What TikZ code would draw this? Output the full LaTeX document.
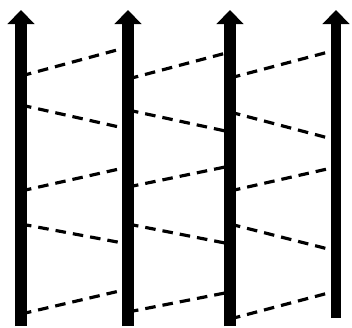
\documentclass[tikz,border=0pt]{standalone}
\usetikzlibrary{arrows.meta}
\tikzset{
  axisline/.style={-{Triangle[width=15pt,length=8pt]},line width=6.5pt,black},
  zigline/.style={dash pattern=on 6pt off 4pt,line width=1.8pt,black},
}
\begin{document}
\begin{tikzpicture}[x=0.02cm,y=-0.02cm]
  \useasboundingbox (0,0) rectangle (352,328);
  % vertical axes
  \coordinate (b1) at (21,326); \coordinate (t1) at (21,10);
  \coordinate (b2) at (128,326); \coordinate (t2) at (128,10);
  \coordinate (b3) at (230,326); \coordinate (t3) at (230,10);
  \coordinate (b4) at (336,318); \coordinate (t4) at (336,10);
  % dashed links between neighbouring axes
  \foreach \xa/\xb/\ya/\yb/\n in {
      21/128/76/47/p1, 21/128/105/129/p2, 21/128/191/167/p3,
      21/128/224/244/p4, 21/128/314/289/p5,
      128/230/79/52/q1, 128/230/110/132/q2, 128/230/187/166/q3,
      128/230/224/244/q4, 128/230/312/292/q5,
      230/336/78/50/r1, 230/336/112/140/r2, 230/336/191/167/r3,
      230/336/224/251/r4, 230/336/319/291/r5} {
    \coordinate (\n l) at (\xa,\ya);
    \coordinate (\n r) at (\xb,\yb);
    \draw[zigline] (\n l) -- (\n r);
  }
  \draw[axisline] (b1) -- (t1);
  \draw[axisline] (b2) -- (t2);
  \draw[axisline] (b3) -- (t3);
  \draw[axisline,line width=5.5pt] (b4) -- (t4);
\end{tikzpicture}
\end{document}
